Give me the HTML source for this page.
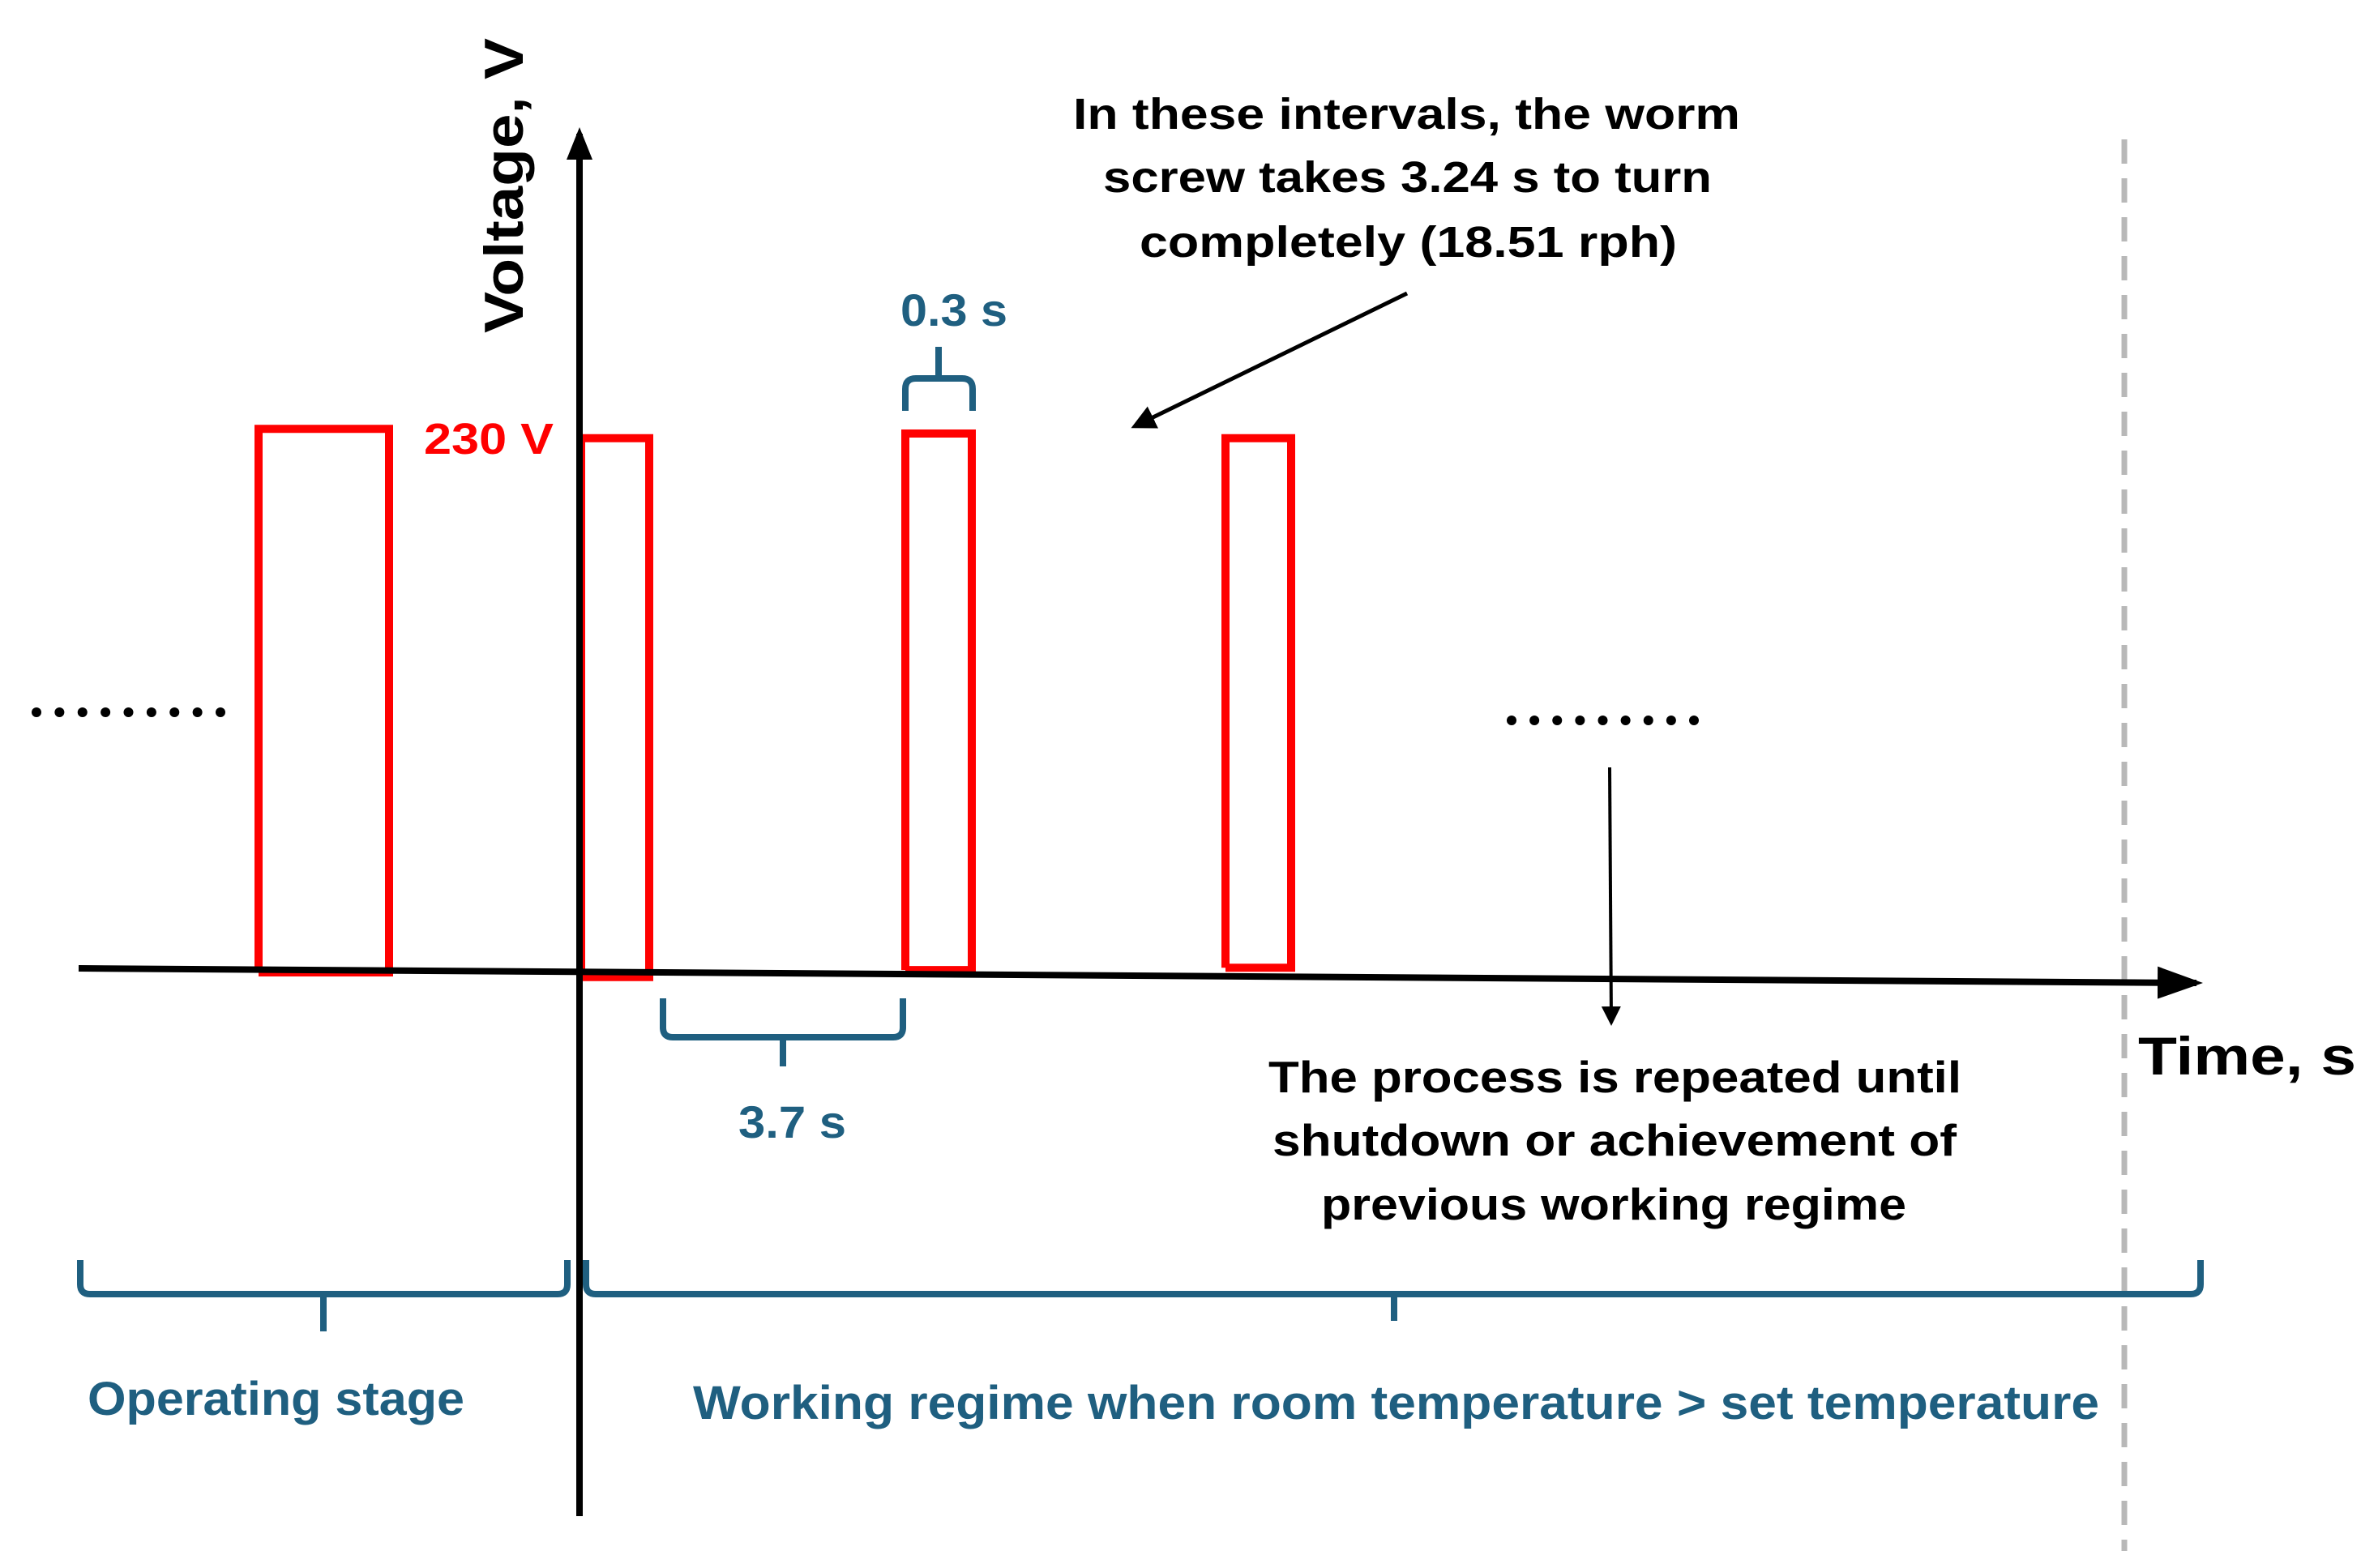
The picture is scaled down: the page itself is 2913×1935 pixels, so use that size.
<!DOCTYPE html>
<html><head><meta charset="utf-8"><style>
html,body{margin:0;padding:0;background:#fff;}
svg{display:block;}
text{font-family:"Liberation Sans",sans-serif;font-weight:bold;}
</style></head><body>
<svg id="chart" width="2913" height="1935" viewBox="0 0 2913 1935" xmlns="http://www.w3.org/2000/svg">
<defs>
<marker id="ah" markerWidth="7" markerHeight="5" refX="6" refY="2.5" orient="auto" markerUnits="strokeWidth"><path d="M0,0 L7,2.5 L0,5 z" fill="#000"/></marker>
<marker id="ahy" markerWidth="5" markerHeight="4" refX="4" refY="2" orient="auto" markerUnits="strokeWidth"><path d="M0,0 L5,2 L0,4 z" fill="#000"/></marker>
<marker id="ah2" markerWidth="6" markerHeight="6" refX="5" refY="3" orient="auto" markerUnits="strokeWidth"><path d="M0,0 L6,3 L0,6 z" fill="#000"/></marker>
</defs>
<line x1="2621" y1="172" x2="2621" y2="1914" stroke="#b8b8b8" stroke-width="7" stroke-dasharray="30,18"/>
<g id="pulses"></g>
<line x1="97" y1="1195" x2="2710" y2="1213" stroke="#000" stroke-width="8" marker-end="url(#ah)"/>
<line x1="715" y1="1871" x2="715" y2="165" stroke="#000" stroke-width="8" marker-end="url(#ahy)"/>
<text transform="translate(645,411) rotate(-90)" font-size="68" textLength="364" lengthAdjust="spacingAndGlyphs">Voltage, V</text>
<text x="2638" y="1326" font-size="66" textLength="269" lengthAdjust="spacingAndGlyphs">Time, s</text>
<text x="523" y="560" font-size="54" fill="#ff0000" textLength="160" lengthAdjust="spacingAndGlyphs">230 V</text>
<g id="ldots"></g>
<g id="rdots"></g>
<g fill="#000" font-size="54">
<text x="1324" y="159" textLength="823" lengthAdjust="spacingAndGlyphs">In these intervals, the worm</text>
<text x="1361" y="237" textLength="751" lengthAdjust="spacingAndGlyphs">screw takes 3.24 s to turn</text>
<text x="1406" y="317" textLength="663" lengthAdjust="spacingAndGlyphs">completely (18.51 rph)</text>
</g>
<line x1="1736" y1="362" x2="1400" y2="526" stroke="#000" stroke-width="5" marker-end="url(#ah2)"/>
<line x1="1986" y1="947" x2="1988" y2="1262" stroke="#000" stroke-width="4" marker-end="url(#ah2)"/>
<g fill="#000" font-size="55">
<text x="1565" y="1348" textLength="855" lengthAdjust="spacingAndGlyphs">The process is repeated until</text>
<text x="1570" y="1426" textLength="844" lengthAdjust="spacingAndGlyphs">shutdown or achievement of</text>
<text x="1630" y="1505" textLength="722" lengthAdjust="spacingAndGlyphs">previous working regime</text>
</g>
<g fill="none" stroke="#1f5f80" stroke-width="8" stroke-linejoin="round">
<path d="M1117,507 V480 Q1117,467 1130,467 H1158 V428 M1158,467 H1187 Q1200,467 1200,480 V507"/>
<path d="M818,1232 V1268 Q818,1280 830,1280 H966 V1316 M966,1280 H1102 Q1114,1280 1114,1268 V1232"/>
<path d="M99,1555 V1585 Q99,1597 111,1597 H399 V1643 M399,1597 H688 Q700,1597 700,1585 V1555"/>
<path d="M723,1555 V1585 Q723,1597 735,1597 H1720 V1630 M1720,1597 H2703 Q2715,1597 2715,1585 V1555"/>
</g>
<g fill="#1f5f80">
<text x="1111" y="402" font-size="56" textLength="132" lengthAdjust="spacingAndGlyphs">0.3 s</text>
<text x="911" y="1404" font-size="56" textLength="133" lengthAdjust="spacingAndGlyphs">3.7 s</text>
<text x="108" y="1746" font-size="58" textLength="465" lengthAdjust="spacingAndGlyphs">Operating stage</text>
<text x="855" y="1751" font-size="58" textLength="1735" lengthAdjust="spacingAndGlyphs">Working regime when room temperature &gt; set temperature</text>
</g>
</svg>
<script>
const pulseStarts = [-3.96, 0.02, 4.02, 7.97];
const pulseEnds = [-2.35, 0.86, 4.84, 8.78];
const pulseVoltages = [232, 228, 230, 228];
const pulseBaselines = [0, -2, 1, 2];
const xS = t => 715 + t * 100;
const yS = v => 1200 - v * (665 / 230);
const NS = 'http://www.w3.org/2000/svg';
const g = document.getElementById('pulses');
pulseStarts.forEach((s, i) => {
  const p = document.createElementNS(NS, 'path');
  const x0 = xS(s), x1 = xS(pulseEnds[i]), yb = yS(pulseBaselines[i]), yt = yS(pulseVoltages[i]);
  p.setAttribute('d', `M${x0},${yb} V${yt} H${x1} V${yb} H${x0}`);
  p.setAttribute('fill', 'none');
  p.setAttribute('stroke', '#ff0000');
  p.setAttribute('stroke-width', '10');
  
  
  g.appendChild(p);
});
function dots(id, x0, x1, y) {
  const el = document.getElementById(id);
  for (let i = 0; i < 9; i++) {
    const c = document.createElementNS(NS, 'circle');
    c.setAttribute('cx', x0 + (x1 - x0) * i / 8);
    c.setAttribute('cy', y);
    c.setAttribute('r', 6);
    c.setAttribute('fill', '#000');
    
    
    el.appendChild(c);
  }
}
dots('ldots', 45, 272, 879);
dots('rdots', 1865, 2090, 889);
</script>
</body></html>
